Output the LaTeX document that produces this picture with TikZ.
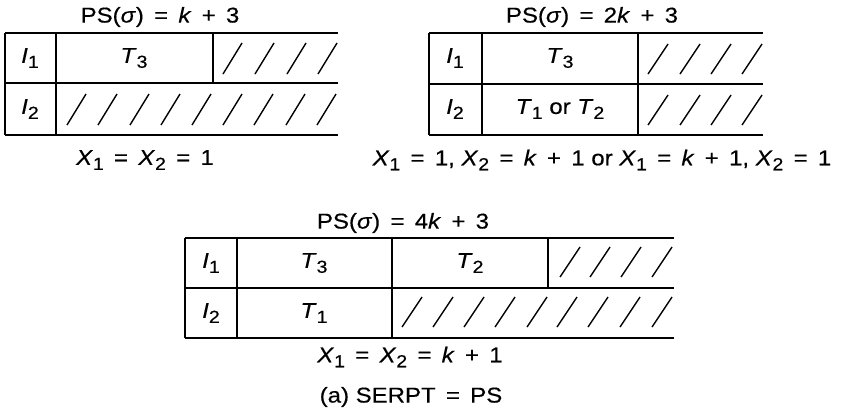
\documentclass[tikz,border=0pt]{standalone}
\usepackage{fontspec}
\setmainfont{Liberation Sans}[FakeStretch=1.12,FakeBold=0.4]
\newcommand\sbs[1]{\raisebox{-5bp}{\fontsize{17.5}{17.5}\selectfont #1}}
\newcommand\vi[1]{\textit{#1}}
\newcommand\gapsp{\hspace{0.48em}}
\newcommand\eqq{\gapsp=\gapsp}
\newcommand\pll{\gapsp+\gapsp}
\begin{document}
\begin{tikzpicture}[x=1bp,y=-1bp,
  grid/.style={line width=1.6bp, black},
  hatch/.style={line width=1.4bp, black},
  lbl/.style={inner sep=0pt, font=\fontsize{21.5}{24}\selectfont, anchor=center}]
\useasboundingbox (0,0) rectangle (846,411);
% ---------- Diagram 1 ----------
\draw[grid] (5,33) -- (338,33);
\draw[grid] (5,83) -- (338,83);
\draw[grid] (5,135) -- (338,135);
\draw[grid] (5,33) -- (5,135);
\draw[grid] (56,33) -- (56,135);
\draw[grid] (213,33) -- (213,83);
\foreach \x in {223,255,287,318} \draw[hatch] (\x,74) -- (\x+19,43);
\foreach \x in {67,98,130,161,192,223,254,286,317} \draw[hatch] (\x,125) -- (\x+19,94);
\node[lbl] (a-t) at (160,17) {PS(\vi{σ})\eqq\vi{k}\pll3};
\node[lbl] (a-i1) at (30,58) {\vi{I}\sbs{1}};
\node[lbl] (a-i2) at (30,109) {\vi{I}\sbs{2}};
\node[lbl] (a-t3) at (134,58) {\vi{T}\sbs{3}};
\node[lbl] (a-x) at (145,160) {\vi{X}\sbs{1}\eqq\vi{X}\sbs{2}\eqq1};
% ---------- Diagram 2 ----------
\draw[grid] (429,33) -- (763,33);
\draw[grid] (429,84) -- (763,84);
\draw[grid] (429,135) -- (763,135);
\draw[grid] (429,33) -- (429,135);
\draw[grid] (482,33) -- (482,135);
\draw[grid] (638,33) -- (638,135);
\foreach \x in {648,680,711,742} {
  \draw[hatch] (\x,74) -- (\x+20,44);
  \draw[hatch] (\x,125) -- (\x+20,95);
}
\node[lbl] (b-t) at (592,17) {PS(\vi{σ})\eqq2\vi{k}\pll3};
\node[lbl] (b-i1) at (455,58) {\vi{I}\sbs{1}};
\node[lbl] (b-i2) at (455,109) {\vi{I}\sbs{2}};
\node[lbl] (b-t3) at (560,58) {\vi{T}\sbs{3}};
\node[lbl] (b-t12) at (560,109) {\vi{T}\sbs{1} or \vi{T}\sbs{2}};
\node[lbl] (b-x) at (602,160) {\vi{X}\sbs{1}\eqq1, \vi{X}\sbs{2}\eqq\vi{k}\pll1 or \vi{X}\sbs{1}\eqq\vi{k}\pll1, \vi{X}\sbs{2}\eqq1};
% ---------- Diagram 3 ----------
\draw[grid] (185,238) -- (674,238);
\draw[grid] (185,288) -- (674,288);
\draw[grid] (185,338) -- (674,338);
\draw[grid] (185,238) -- (185,338);
\draw[grid] (237,238) -- (237,338);
\draw[grid] (392,238) -- (392,338);
\draw[grid] (548,238) -- (548,288);
\foreach \x in {560,590,621,652} \draw[hatch] (\x,277) -- (\x+20,247);
\foreach \x in {402,433,464,495,527,557,588,620,652} \draw[hatch] (\x,327) -- (\x+20,297);
\node[lbl] (c-t) at (403,223) {PS(\vi{σ})\eqq4\vi{k}\pll3};
\node[lbl] (c-i1) at (211,263) {\vi{I}\sbs{1}};
\node[lbl] (c-i2) at (211,313) {\vi{I}\sbs{2}};
\node[lbl] (c-t3) at (314,263) {\vi{T}\sbs{3}};
\node[lbl] (c-t2) at (470,263) {\vi{T}\sbs{2}};
\node[lbl] (c-t1) at (314,313) {\vi{T}\sbs{1}};
\node[lbl] (c-x) at (410,357) {\vi{X}\sbs{1}\eqq\vi{X}\sbs{2}\eqq\vi{k}\pll1};
\node[lbl] (cap) at (411,397) {(a) SERPT\eqq PS};
\end{tikzpicture}
\end{document}
